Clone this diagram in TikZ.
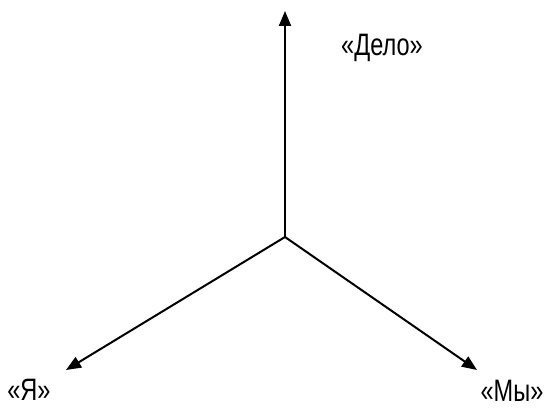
\documentclass[tikz,border=0pt]{standalone}
\usepackage{fontspec}
\setmainfont[FakeStretch=0.76]{Liberation Sans}
\usetikzlibrary{arrows.meta}
\begin{document}
\begin{tikzpicture}[x=1pt,y=-1pt,
  axis/.style={line width=2pt,-{Triangle[length=15pt,width=12pt]}},
  lbl/.style={font=\fontsize{31}{34}\selectfont,inner sep=0pt}]
\useasboundingbox (0,0) rectangle (549,411);
\coordinate (o) at (285,237);
\coordinate (up) at (285,11);
\coordinate (ll) at (66,370);
\coordinate (lr) at (477,370);
\draw[axis] (o) -- (up);
\draw[axis] (o) -- (ll);
\draw[axis] (o) -- (lr);
\node[lbl] (delo) at (382,48) {«Дело»};
\node[lbl] (ya) at (29,390) {«Я»};
\node[lbl] (my) at (512,391) {«Мы»};
\end{tikzpicture}
\end{document}
